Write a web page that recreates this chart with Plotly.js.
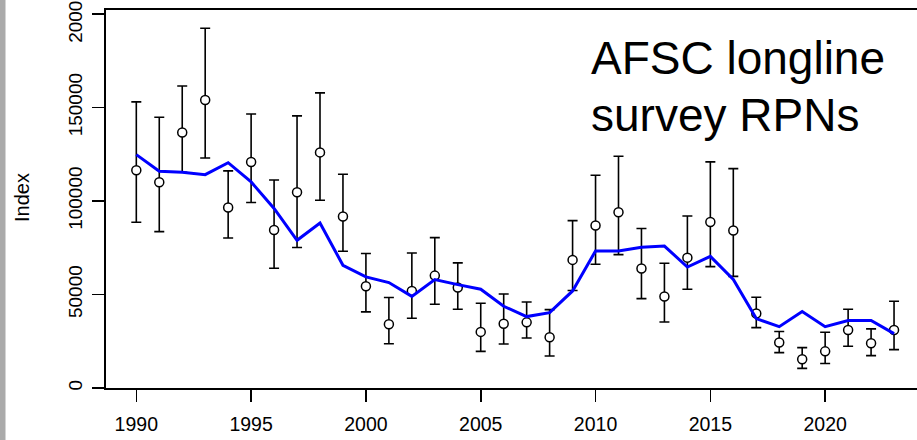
<!DOCTYPE html>
<html>
<head>
<meta charset="utf-8">
<script src="https://cdn.plot.ly/plotly-3.0.1.min.js"></script>
<style>
html, body { margin: 0; padding: 0; overflow: hidden; background: #fff; }
#chart { width: 917px; height: 440px; }
</style>
</head>
<body>
<div id="chart"></div>
<script>
// ---- data ----
const years = [1990,1991,1992,1993,1994,1995,1996,1997,1998,1999,2000,2001,2002,2003,2004,2005,2006,2007,2008,2009,2010,2011,2012,2013,2014,2015,2016,2017,2018,2019,2020,2021,2022,2023];
const rpnIndex = [116400,110000,136600,154000,96500,120900,84500,104700,126000,91700,54400,34100,51900,60100,53700,30000,34400,35100,27100,68500,86900,94000,63900,48900,69700,88800,84200,39800,24300,15400,19600,31000,23900,31000];
const upperCI = [153000,144800,161500,192400,116100,146500,111200,145500,157800,114300,71900,48400,72200,80400,66900,45300,50300,46000,41900,89500,113800,123900,85300,66700,92000,120900,117300,48500,30200,21600,29800,42100,31600,46400];
const lowerCI = [88600,83600,115400,123000,80200,99200,64000,75100,100400,73100,40700,23700,37300,44800,42100,19600,23500,26700,17100,52100,66200,71300,47800,35300,52800,64900,59700,32300,18900,10500,13100,22300,17300,20500];
const modelFit = [124800,115900,115400,114100,120500,110200,96000,79000,88200,65600,59400,56400,49000,58000,55300,52800,43700,38200,40300,51900,73300,73300,75300,75900,64700,70400,58000,37100,32800,40900,32800,36100,36100,29100];
const xTicks = [1990,1995,2000,2005,2010,2015,2020];
const yTicks = [0,50000,100000,150000,200000];
const yTickText = ["0","50000","100000","150000","200000"];
const titleLines = ["AFSC longline", "survey RPNs"];
const yLabel = "Index";

const errPlus = upperCI.map((u, i) => u - rpnIndex[i]);
const errMinus = lowerCI.map((l, i) => rpnIndex[i] - l);

const FONT = "Liberation Sans, Arial, sans-serif";
const W = 917, H = 440, ML = 106, MR = 0, MT = 10, MB = 52;
const PW = W - ML - MR, PH = H - MT - MB;
const px = x => (x - ML) / PW;
const py = y => (H - MB - y) / PH;

const traces = [
  {
    x: years, y: rpnIndex, type: 'scatter', mode: 'markers',
    marker: { symbol: 'circle', size: 9, color: '#ffffff', line: { color: '#000000', width: 1.5 } },
    error_y: { type: 'data', symmetric: false, array: errPlus, arrayminus: errMinus,
               color: '#000000', thickness: 1.6, width: 5 },
    hoverinfo: 'skip', showlegend: false
  },
  {
    x: years, y: modelFit, type: 'scatter', mode: 'lines',
    line: { color: '#0000ff', width: 3 },
    hoverinfo: 'skip', showlegend: false
  }
];

const layout = {
  width: W, height: H,
  margin: { l: ML, r: MR, t: MT, b: MB, pad: 0 },
  paper_bgcolor: '#ffffff', plot_bgcolor: '#ffffff',
  font: { family: FONT, color: '#000000' },
  showlegend: false,
  xaxis: {
    range: [1988.68, 2024.0], tickmode: 'array', tickvals: xTicks,
    ticktext: xTicks.map(String),
    ticks: 'outside', ticklen: 12, tickwidth: 1.6, tickcolor: '#000000',
    showline: true, linecolor: '#000000', linewidth: 1.6, mirror: true,
    showgrid: false, zeroline: false, ticklabelstandoff: 6,
    tickfont: { family: FONT, size: 19.5, color: '#000000' }
  },
  yaxis: {
    range: [0, 202140], tickmode: 'array', tickvals: yTicks, ticktext: yTickText,
    ticks: 'outside', ticklen: 12, tickwidth: 1.6, tickcolor: '#000000',
    showline: true, linecolor: '#000000', linewidth: 1.6, mirror: false,
    showgrid: false, zeroline: false, tickangle: -90, ticklabelstandoff: 3,
    ticklabeloverflow: 'allow',
    tickfont: { family: FONT, size: 19, color: '#000000' }
  },
  annotations: [
    { text: yLabel, xref: 'paper', yref: 'paper', x: px(22), y: py(198),
      xanchor: 'center', yanchor: 'middle', textangle: -90, showarrow: false,
      font: { family: FONT, size: 20, color: '#000000' } },
    { text: titleLines[0], xref: 'paper', yref: 'paper', x: px(589), y: py(58),
      xanchor: 'left', yanchor: 'middle', showarrow: false,
      font: { family: FONT, size: 46, color: '#000000' } },
    { text: titleLines[1], xref: 'paper', yref: 'paper', x: px(589), y: py(115),
      xanchor: 'left', yanchor: 'middle', showarrow: false,
      font: { family: FONT, size: 46, color: '#000000' } }
  ],
  shapes: [
    { type: 'rect', xref: 'paper', yref: 'paper', x0: px(0), x1: px(5.5), y0: py(440), y1: py(0),
      fillcolor: '#aaaaaa', line: { width: 0 }, layer: 'above' }
  ]
};

Plotly.newPlot('chart', traces, layout, { staticPlot: true, displayModeBar: false });
</script>
</body>
</html>
